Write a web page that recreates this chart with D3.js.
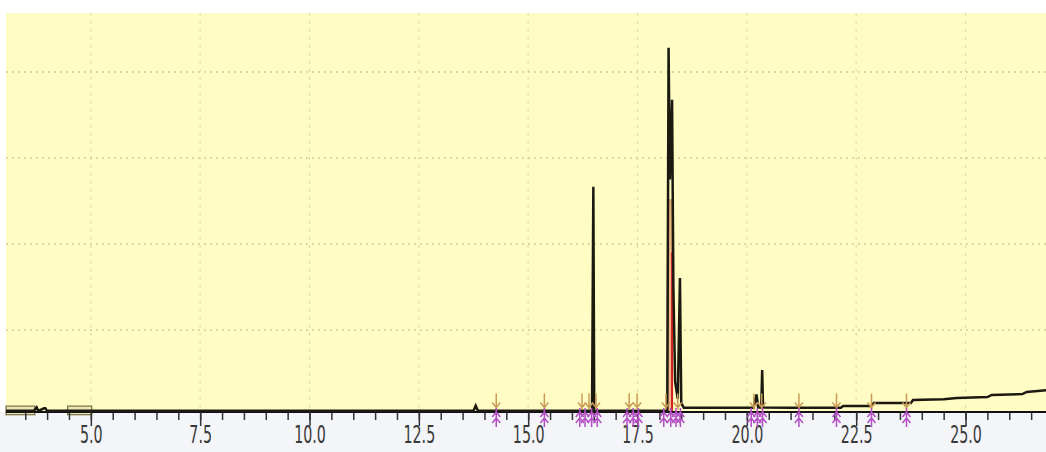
<!DOCTYPE html>
<html>
<head>
<meta charset="utf-8">
<script src="https://cdn.jsdelivr.net/npm/d3@7"></script>
<style>
  body{margin:0;background:#fff;}
  #chart{display:block;}
</style>
</head>
<body>
<svg id="chart"></svg>
<script>
// retention time (min) / signal of the trace
const traceTime = [3.06,3.70,3.76,3.80,3.93,3.96,4.00,13.75,13.80,13.85,16.46,16.49,16.51,18.18,18.21,18.24,18.29,18.32,18.36,18.42,18.47,18.50,18.56,20.15,20.22,20.26,20.33,20.35,20.37,21.00,22.15,22.20,22.85,22.90,23.75,23.80,24.50,24.80,25.50,25.60,26.30,26.40,26.85];
const traceValue = [1.2,1.2,2.0,1.2,1.8,1.8,1.2,1.2,2.4,1.2,1.2,53.3,1.2,1.2,85.6,55,73.5,30,8,4,32.1,3,1.9,1.9,5,2,2,10.7,2,1.9,1.9,2.3,2.3,3.0,3.0,3.7,3.9,4.2,4.4,4.9,5.1,5.6,6.0];

// integrated peak (filled)
const fillTime = [18.18,18.19,18.28,18.29];
const fillValue = [1.2,50.2,50.2,1.2];

// solvent boxes at start
const boxStart = [3.06,4.47];
const boxEnd = [3.72,5.02];

// peak start / end markers
const startMarks = [14.27,15.37,16.23,16.39,16.55,17.31,17.49,18.15,18.42,20.16,20.34,21.19,22.05,22.85,23.65];
const endMarks = [14.27,15.37,16.18,16.30,16.45,16.58,17.26,17.40,17.52,18.10,18.26,18.38,18.48,20.10,20.24,20.36,21.19,22.05,22.85,23.65];

const majorTicks = [5.0,7.5,10.0,12.5,15.0,17.5,20.0,22.5,25.0];
const minorTicks = d3.range(3.5,27,0.5);
const gridValues = [20,40,60,80];

class Chromatogram{
    constructor(id){
        this.id = id;
        this.svg;
        this.xScale;
        this.yScale;
    }
    draw(){
        const W = 1046, H = 452;
        const LEFT = 6, TOP = 13, AXIS_Y = 412;
        this.svg = d3.select("#"+this.id).attr("width",W).attr("height",H);
        const svg = this.svg;

        this.xScale = d3.scaleLinear().domain([3.06,26.84]).range([LEFT,W]);
        this.yScale = d3.scaleLinear().domain([0,93.7]).range([416,TOP]);
        const x = this.xScale, y = this.yScale;

        // 바탕
        svg.append("rect").attr("x",0).attr("y",AXIS_Y).attr("width",W).attr("height",H-AXIS_Y).attr("fill","#f3f5f8");
        svg.append("rect").attr("x",LEFT).attr("y",TOP).attr("width",W-LEFT).attr("height",AXIS_Y-TOP).attr("fill","#fffcc4");

        // grid
        svg.append("g").selectAll("line").data(majorTicks).join("line")
            .attr("x1",d=>x(d)).attr("x2",d=>x(d)).attr("y1",TOP).attr("y2",AXIS_Y)
            .attr("stroke","#dcd7aa").attr("stroke-width",1).attr("stroke-dasharray","3,5");
        svg.append("g").selectAll("line").data(gridValues).join("line")
            .attr("x1",LEFT).attr("x2",W).attr("y1",d=>y(d)).attr("y2",d=>y(d))
            .attr("stroke","#cfca9c").attr("stroke-width",1.5).attr("stroke-dasharray","2,4");

        // boxes
        svg.append("g").selectAll("rect").data(boxStart).join("rect")
            .attr("x",(d)=>x(d)).attr("y",y(2.3)).attr("width",(d,i)=>x(boxEnd[i])-x(d)).attr("height",y(0.3)-y(2.3))
            .attr("fill","#ece6b8").attr("stroke","#7a7040").attr("stroke-width",1.2);

        // integrated peak
        const pts = fillTime.map((t,i)=>[x(t),y(fillValue[i])]);
        svg.append("path").attr("d",d3.line()(pts)+"Z")
            .attr("fill","#e9a070").attr("fill-opacity",0.75).attr("stroke","#c8a060").attr("stroke-width",1.5);
        svg.append("line").attr("x1",x(18.29)).attr("x2",x(18.29)).attr("y1",y(38)).attr("y2",y(1.2))
            .attr("stroke","#d02020").attr("stroke-width",2);

        // axis
        const gMinor = svg.append("g").attr("transform","translate(0,"+AXIS_Y+")")
            .call(d3.axisBottom(x).tickValues(minorTicks).tickSize(8).tickFormat(""));
        gMinor.select(".domain").remove();
        gMinor.selectAll("line").attr("stroke","#333").attr("stroke-width",1.5);
        const gMajor = svg.append("g").attr("transform","translate(0,"+AXIS_Y+")")
            .call(d3.axisBottom(x).tickValues(majorTicks).tickSize(14).tickPadding(0).tickFormat(d3.format(".1f")));
        gMajor.select(".domain").attr("stroke","#111").attr("stroke-width",2).attr("d","M"+LEFT+",0H"+W);
        gMajor.selectAll("line").attr("stroke","#333").attr("stroke-width",1.5);
        gMajor.selectAll("text").attr("font-family","'Liberation Sans Narrow','DejaVu Sans Condensed',sans-serif")
            .attr("font-size","24px").attr("fill","#3a3a3a").attr("transform","scale(0.66,1)");

        // trace
        const line = d3.line().x((d)=>x(d[0])).y((d)=>y(d[1]));
        svg.append("path").datum(traceTime.map((t,i)=>[t,traceValue[i]]))
            .attr("d",line).attr("fill","none").attr("stroke","#1c1a10").attr("stroke-width",2.5);

        // markers
        svg.append("g").selectAll("path").data(startMarks).join("path")
            .attr("d",(d)=>{const px=x(d),b=y(1.5);return "M"+px+","+(b-16)+"V"+b+"M"+(px-4)+","+(b-7)+"L"+px+","+(b-2)+"L"+(px+4)+","+(b-7);})
            .attr("fill","none").attr("stroke","#c99b55").attr("stroke-width",1.5);
        svg.append("g").selectAll("path").data(endMarks).join("path")
            .attr("d",(d)=>{const px=x(d),b=AXIS_Y;return "M"+px+","+(b-4)+"V"+(b+15)+"M"+(px-4)+","+(b+5)+"L"+px+","+(b)+"L"+(px+4)+","+(b+5)+"M"+(px-4)+","+(b+11)+"L"+px+","+(b+6)+"L"+(px+4)+","+(b+11);})
            .attr("fill","none").attr("stroke","#b44fc4").attr("stroke-width",1.5);

        console.info('Chart frame is successed !');
        return this.svg;
    }
}

new Chromatogram("chart").draw();
</script>
</body>
</html>
